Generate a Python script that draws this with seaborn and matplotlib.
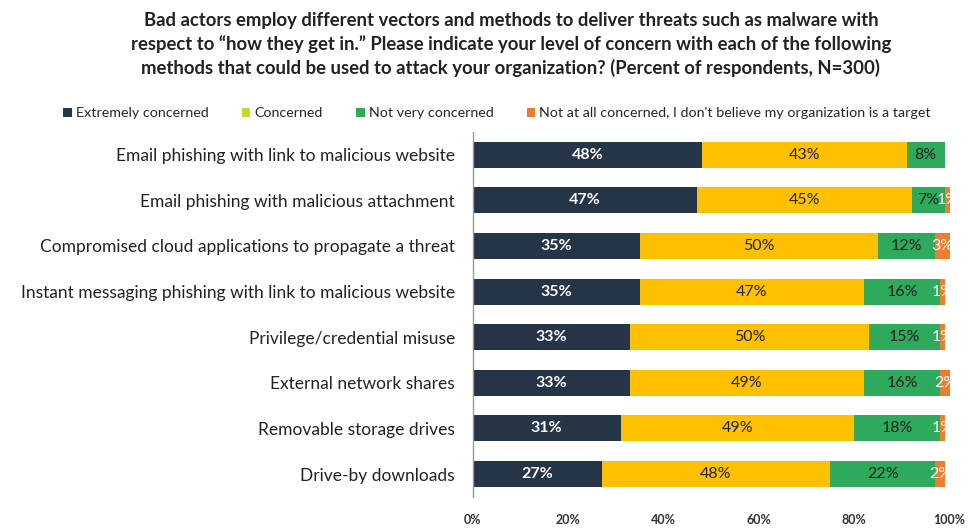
import matplotlib
matplotlib.use("Agg")
import matplotlib.pyplot as plt
from matplotlib.patches import Patch
import numpy as np
import pandas as pd
import seaborn as sns

methods = [
    "Email phishing with link to malicious website",
    "Email phishing with malicious attachment",
    "Compromised cloud applications to propagate a threat",
    "Instant messaging phishing with link to malicious website",
    "Privilege/credential misuse",
    "External network shares",
    "Removable storage drives",
    "Drive-by downloads",
]
extremely = [48, 47, 35, 35, 33, 33, 31, 27]
concerned = [43, 45, 50, 47, 50, 49, 49, 48]
not_very = [8, 7, 12, 16, 15, 16, 18, 22]
not_at_all = [0, 1, 3, 1, 1, 2, 1, 2]

series_names = [
    "Extremely concerned",
    "Concerned",
    "Not very concerned",
    "Not at all concerned, I don't believe my organization is a target",
]
bar_colors = ["#263447", "#FFC000", "#2EAA5C", "#ED7D31"]
legend_colors = ["#263447", "#C5D92D", "#2EAA5C", "#ED7D31"]
label_colors = ["white", "#222222", "#222222", "white"]

title = ("Bad actors employ different vectors and methods to deliver threats such as malware with\n"
         "respect to \u201chow they get in.\u201d Please indicate your level of concern with each of the following\n"
         "methods that could be used to attack your organization? (Percent of respondents, N=300)")

sns.set_theme(style="white")
plt.rcParams["font.family"] = ["Lato", "DejaVu Sans"]

df = pd.DataFrame({"method": methods})
values = [extremely, concerned, not_very, not_at_all]
cum = np.cumsum(np.array(values), axis=0)

fig = plt.figure(figsize=(9.73, 5.32), dpi=100)
ax = fig.add_axes([0.486, 0.066, 0.490, 0.686])

# stacked bars: draw cumulative totals from the outermost segment inwards
for i in range(3, -1, -1):
    df["val"] = cum[i]
    sns.barplot(data=df, x="val", y="method", orient="h", color=bar_colors[i],
                width=0.57, saturation=1, ax=ax, linewidth=0)

for r in range(len(methods)):
    for i in range(4):
        v = values[i][r]
        if v <= 0:
            continue
        start = cum[i][r] - v
        ax.text(start + v / 2, r, f"{v}%", ha="center", va="center",
                fontsize=11.5, color=label_colors[i],
                fontweight="bold" if i == 0 else "normal", clip_on=True)

ax.set_xlim(0, 100)
ax.set_xticks([0, 20, 40, 60, 80, 100])
ax.set_xticklabels([f"{t}%" for t in [0, 20, 40, 60, 80, 100]],
                   fontsize=9, fontweight="bold", color="#333333")
ax.set_xlabel("")
ax.set_ylabel("")
ax.tick_params(axis="y", labelsize=12.5, colors="#222222", length=0, pad=13)
ax.tick_params(axis="x", length=0, pad=12)
for s in ["top", "right", "bottom"]:
    ax.spines[s].set_visible(False)
ax.spines["left"].set_color("#999999")
ax.spines["left"].set_linewidth(1)

fig.text(0.525, 0.978, title, ha="center", va="top", fontsize=13.3,
         fontweight="bold", color="#222222", linespacing=1.4)

handles = [Patch(facecolor=c, edgecolor="none") for c in legend_colors]
fig.legend(handles, series_names, loc="center", bbox_to_anchor=(0.511, 0.787),
           ncol=4, frameon=False, fontsize=10.3, handlelength=0.6, handleheight=0.6,
           handletextpad=0.3, columnspacing=2.3)

fig.savefig("out.png", dpi=100)
